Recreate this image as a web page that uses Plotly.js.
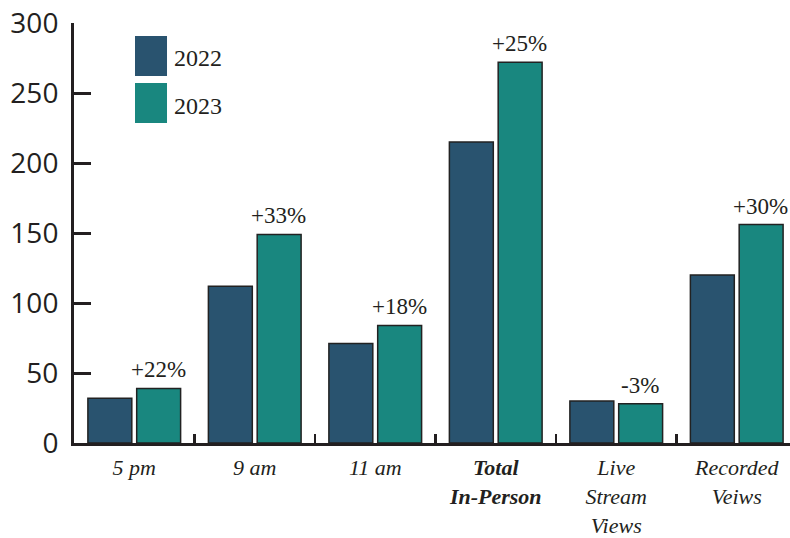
<!DOCTYPE html>
<html>
<head>
<meta charset="utf-8">
<script src="https://cdn.plot.ly/plotly-3.0.1.min.js"></script>
<style>html,body{margin:0;padding:0;background:#fff;}</style>
</head>
<body>
<div id="chart" style="width:790px;height:538px;"></div>
<script>
const categories = ["5 pm", "9 am", "11 am", "Total In-Person", "Live Stream Views", "Recorded Veiws"];
const tickLabels = ["5 pm", "9 am", "11 am", "<b>Total</b><br><b>In-Person</b>", "Live<br>Stream<br>Views", "Recorded<br>Veiws"];
const values2022 = [32, 112, 71, 215, 30, 120];
const values2023 = [39, 149, 84, 272, 28, 156];
const changeLabels = ["+22%", "+33%", "+18%", "+25%", "-3%", "+30%"];
const seriesNames = ["2022", "2023"];
const yTicks = [0, 50, 100, 150, 200, 250, 300];

const col2022 = "#29536f";
const col2023 = "#19877f";
const ink = "#231f20";

const traces = [
  {type: "bar", name: seriesNames[0], x: categories, y: values2022,
   marker: {color: col2022, line: {color: "#222", width: 1.5}}, hoverinfo: "y"},
  {type: "bar", name: seriesNames[1], x: categories, y: values2023,
   marker: {color: col2023, line: {color: "#222", width: 1.5}}, hoverinfo: "y"}
];

const annotations = changeLabels.map((t, i) => ({
  x: categories[i], y: values2023[i], xref: "x", yref: "y",
  text: t, showarrow: false, xanchor: "center", yanchor: "bottom",
  xshift: 24, yshift: 4,
  font: {family: "Liberation Serif", size: 23, color: ink}
}));

// custom legend (swatches + labels)
const legendY = [0.9215, 0.8095];
const shapes = [];
[col2022, col2023].forEach((c, i) => {
  shapes.push({type: "rect", xref: "paper", yref: "paper",
    x0: 0.0852, x1: 0.1299, y0: legendY[i] - 0.0476, y1: legendY[i] + 0.0476,
    fillcolor: c, line: {width: 0}});
  annotations.push({xref: "paper", yref: "paper", x: 0.1369, y: legendY[i] - 0.006,
    text: seriesNames[i], showarrow: false, xanchor: "left", yanchor: "middle",
    font: {family: "Liberation Serif", size: 24, color: ink}});
});

const layout = {
  width: 790, height: 538,
  margin: {l: 74, r: 0, t: 23, b: 95, pad: 0},
  paper_bgcolor: "#fff", plot_bgcolor: "#fff",
  showlegend: false,
  barmode: "group", bargap: 0.19, bargroupgap: 0.1,
  xaxis: {
    type: "category", range: [-0.5, 5.442],
    tickvals: categories, ticktext: tickLabels,
    showline: true, linecolor: ink, linewidth: 3,
    ticks: "inside", tickson: "boundaries", ticklen: 9, tickwidth: 2.5, tickcolor: ink,
    ticklabelstandoff: 3,
    tickfont: {family: "Liberation Serif", size: 22, color: ink, style: "italic"},
    showgrid: false, zeroline: false, fixedrange: true
  },
  yaxis: {
    range: [0, 300], tickvals: yTicks,
    showline: true, linecolor: ink, linewidth: 3,
    ticks: "inside", ticklen: 17, tickwidth: 3, tickcolor: ink,
    ticklabelstandoff: 7,
    tickfont: {family: "Open Sans", size: 28, color: ink},
    showgrid: false, zeroline: false, fixedrange: true
  },
  annotations: annotations,
  shapes: shapes
};

Plotly.newPlot("chart", traces, layout, {displayModeBar: false, staticPlot: true});
</script>
</body>
</html>
